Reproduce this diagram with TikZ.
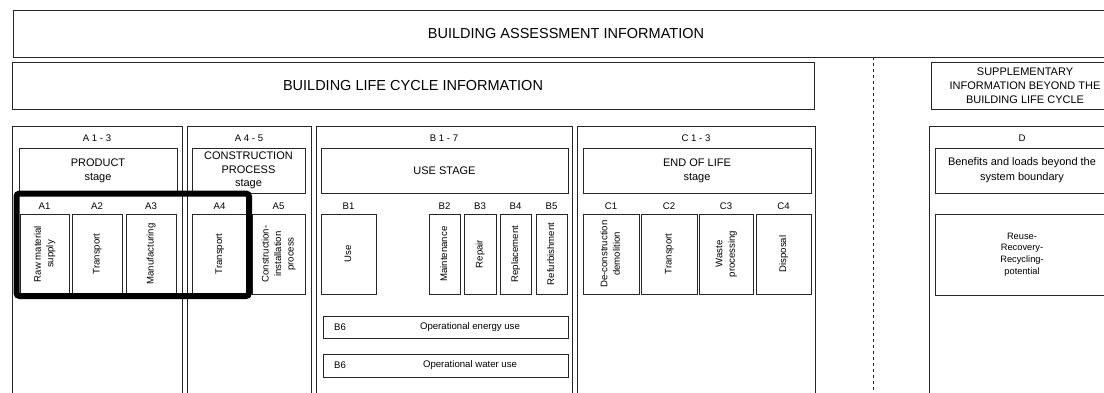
\documentclass[tikz,border=0pt]{standalone}
\usepackage{fontspec}
\setmainfont{Liberation Sans}
\usepackage{graphicx}
\newcommand\fbig{\fontsize{14.5}{17}\selectfont}
\newcommand\fmid{\fontsize{11}{14}\selectfont}
\newcommand\fsmall{\fontsize{9.6}{12.5}\selectfont}
\newcommand\fsm{\fontsize{9.3}{11.7}\selectfont}
\newcommand\vtext[1]{\rotatebox{90}{\begin{tabular}{@{}c@{}}#1\end{tabular}}}
\tikzset{
  box/.style={draw=black!85, line width=1pt, inner sep=0pt, outer sep=0pt, align=center},
  lbl/.style={inner sep=0pt, outer sep=0pt, font=\fsmall},
  mid/.style={font=\fmid},
  subbox/.style={box, font=\fsmall, minimum height=80pt},
  hilite/.style={draw=black, line width=6pt, rounded corners=3pt},
  divider/.style={draw=black!85, line width=1pt, dash pattern=on 3pt off 3pt}
}
\begin{document}
\begin{tikzpicture}[x=1pt,y=-1pt]
\path[use as bounding box, fill=white] (0,0) rectangle (1104,392);
\clip (0,0) rectangle (1104,392);

% top rows
\node[box, font=\fbig, minimum width=1106pt, minimum height=47pt] (bai) at (566,33.5) {BUILDING ASSESSMENT INFORMATION};
\node[box, font=\fbig, minimum width=802pt, minimum height=47pt] (blci) at (413,85.5) {BUILDING LIFE CYCLE INFORMATION};
\node[box, font=\fmid, minimum width=188pt, minimum height=47pt] (suppl) at (1025,85.5) {SUPPLEMENTARY\\INFORMATION BEYOND THE\\BUILDING LIFE CYCLE};

% divider
\coordinate (dtop) at (873,57);
\coordinate (dbot) at (873,400);
\draw[divider] (dtop) -- (dbot);

% column frames
\node[box, minimum width=170pt, minimum height=294pt] (fA13) at (97,273) {};
\node[box, minimum width=124pt, minimum height=294pt] (fA45) at (249,273) {};
\node[box, minimum width=256pt, minimum height=294pt] (fB) at (444,273) {};
\node[box, minimum width=238pt, minimum height=294pt] (fC) at (696,273) {};
\node[box, minimum width=186pt, minimum height=294pt] (fD) at (1022,273) {};

% column headers
\node[lbl] (hA13) at (97,138) {A 1 - 3};
\node[lbl] (hA45) at (249,138) {A 4 - 5};
\node[lbl] (hB) at (444,138) {B 1 - 7};
\node[lbl] (hC) at (696,138) {C 1 - 3};
\node[lbl] (hD) at (1022,138) {D};

% stage boxes
\node[box, font=\fmid, minimum width=158pt, minimum height=45pt] (product) at (98,170.5) {PRODUCT\\stage};
\node[box, font=\fontsize{11}{13.5}\selectfont, minimum width=113pt, minimum height=45pt] (constr) at (248.5,170.5) {CONSTRUCTION\\PROCESS\\stage};
\node[box, font=\fmid, minimum width=247pt, minimum height=45pt] (use) at (444.5,170.5) {USE STAGE};
\node[box, font=\fmid, minimum width=228pt, minimum height=45pt] (eol) at (697,170.5) {END OF LIFE\\stage};
\node[box, font=\fontsize{11}{15}\selectfont, minimum width=174pt, minimum height=45pt] (benef) at (1022,170.5) {Benefits and loads beyond the\\system boundary};

% sub labels
\node[lbl] (lA1) at (44.5,206) {A1};
\node[lbl] (lA2) at (97,206) {A2};
\node[lbl] (lA3) at (151,206) {A3};
\node[lbl] (lA4) at (219.5,206) {A4};
\node[lbl] (lA5) at (278.5,206) {A5};
\node[lbl] (lB1) at (348.5,206) {B1};
\node[lbl] (lB2) at (444.5,206) {B2};
\node[lbl] (lB3) at (480,206) {B3};
\node[lbl] (lB4) at (515.5,206) {B4};
\node[lbl] (lB5) at (551.5,206) {B5};
\node[lbl] (lC1) at (611,206) {C1};
\node[lbl] (lC2) at (669,206) {C2};
\node[lbl] (lC3) at (726,206) {C3};
\node[lbl] (lC4) at (783.5,206) {C4};

% sub boxes
\node[subbox, minimum width=49pt] (a1) at (44.5,254) {\vtext{Raw material\\supply}};
\node[subbox, minimum width=50pt] (a2) at (97,254) {\vtext{Transport}};
\node[subbox, minimum width=50pt] (a3) at (151,254) {\vtext{Manufacturing}};
\node[subbox, minimum width=55pt] (a4) at (219.5,254) {\vtext{Transport}};
\node[subbox, minimum width=53pt] (a5) at (278.5,254) {\vtext{Construction-\\installation\\process}};
\node[subbox, minimum width=55pt] (b1) at (348.5,254) {\vtext{Use}};
\node[subbox, minimum width=31pt] (b2) at (444.5,254) {\vtext{Maintenance}};
\node[subbox, minimum width=32pt] (b3) at (480,254) {\vtext{Repair}};
\node[subbox, minimum width=31pt] (b4) at (515.5,254) {\vtext{Replacement}};
\node[subbox, minimum width=31pt] (b5) at (551.5,254) {\vtext{Refurbishment}};
\node[subbox, minimum width=56pt] (c1) at (611,254) {\vtext{De-construction\\demolition}};
\node[subbox, minimum width=56pt] (c2) at (669,254) {\vtext{Transport}};
\node[subbox, minimum width=54pt] (c3) at (726,254) {\vtext{Waste\\processing}};
\node[subbox, minimum width=55pt] (c4) at (783.5,254) {\vtext{Disposal}};
\node[box, font=\fsm, minimum width=174pt, minimum height=81pt] (reuse) at (1022,254.5) {Reuse-\\Recovery-\\Recycling-\\potential};

% B6 rows
\node[box, minimum width=245pt, minimum height=22pt] (b6e) at (445.5,327) {};
\node[lbl] (b6eid) at (340,327) {B6};
\node[lbl] (b6etx) at (470,327) {Operational energy use};
\node[box, minimum width=245pt, minimum height=23pt] (b6w) at (445.5,365.5) {};
\node[lbl] (b6wid) at (340,365.5) {B6};
\node[lbl] (b6wtx) at (470,365.5) {Operational water use};

% highlight
\draw[hilite] (16.5,193.5) rectangle (249,296);
\end{tikzpicture}
\end{document}
